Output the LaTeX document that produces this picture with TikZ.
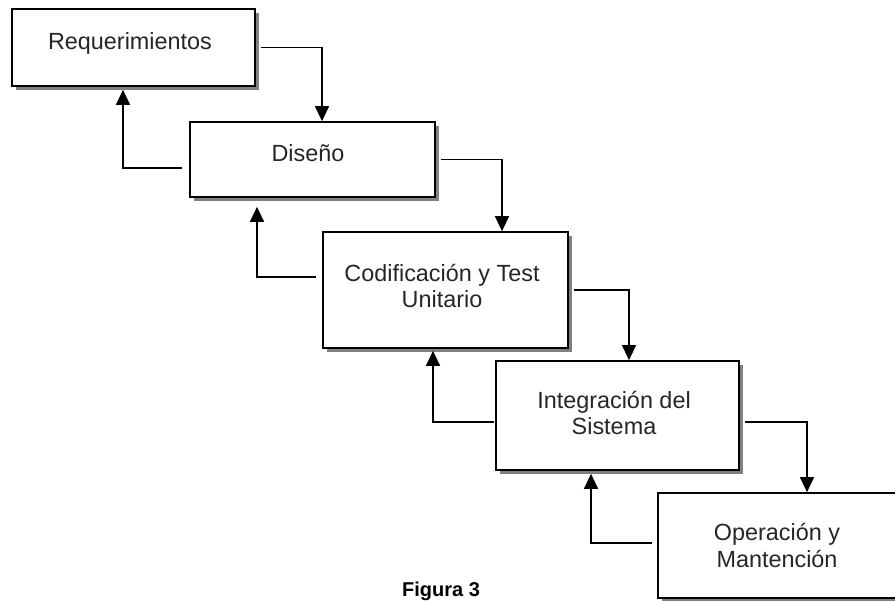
\documentclass[tikz,border=0pt]{standalone}
\usepackage{fontspec}
\setmainfont{Liberation Sans}
\usetikzlibrary{arrows.meta,shadows}

\tikzset{
  stagebox/.style={draw=black, fill=white, line width=1.7pt, inner sep=0pt,
    general shadow={fill=black!50, shadow xshift=4pt, shadow yshift=-4pt}},
  stagetext/.style={font=\fontsize{23.4}{26.5}\selectfont, text=black!85,
    align=center, inner sep=0pt},
  flow/.style={line width=1.3pt, -{Triangle[width=14pt,length=15pt]}},
}

\begin{document}
\begin{tikzpicture}[x=1pt,y=1pt]
  \useasboundingbox (0,0) rectangle (895,601);
  \clip (0,0) rectangle (895,601);

  % stages of the waterfall
  \node[stagebox, minimum width=243pt, minimum height=77pt]  (req) at (133.5,553.5) {};
  \node[stagebox, minimum width=245pt, minimum height=75pt]  (dis) at (312.5,441.5) {};
  \node[stagebox, minimum width=245pt, minimum height=116pt] (cod) at (445.5,311) {};
  \node[stagebox, minimum width=243pt, minimum height=109pt] (int) at (617.5,185.5) {};
  \node[stagebox, minimum width=245pt, minimum height=105pt] (op)  at (780.5,55.5) {};

  % stage labels (base anchor sits on the last line)
  \node[stagetext, anchor=base] (reqt) at (130,551) {Requerimientos};
  \node[stagetext, anchor=base] (dist) at (308,439) {Diseño};
  \node[stagetext, anchor=base] (codt) at (442,293) {Codificación y Test\\Unitario};
  \node[stagetext, anchor=base] (intt) at (614,166) {Integración del\\Sistema};
  \node[stagetext, anchor=base] (opt)  at (777,33.5) {Operación y\\Mantención};

  % forward flow
  \draw[flow] ([xshift=5pt]req.east) -| ([xshift=9.5pt]dis.north);
  \draw[flow] ([xshift=5pt]dis.east) -| ([xshift=56.5pt]cod.north);
  \draw[flow] ([xshift=5pt]cod.east) -| ([xshift=11.5pt]int.north);
  \draw[flow] ([xshift=5pt,yshift=-6.5pt]int.east) -| ([xshift=26.5pt]op.north);

  % feedback flow
  \draw[flow] ([xshift=-7pt,yshift=-8.5pt]dis.west) -| ([xshift=-10.5pt,yshift=-3pt]req.south);
  \draw[flow] ([xshift=-6pt,yshift=13pt]cod.west) -| ([xshift=-55.5pt,yshift=-9pt]dis.south);
  \draw[flow] ([xshift=-1pt,yshift=-6.5pt]int.west) -| ([xshift=-12.5pt,yshift=-2pt]cod.south);
  \draw[flow] ([xshift=-5pt,yshift=2.5pt]op.west) -| ([xshift=-26.5pt,yshift=-3pt]int.south);

  % caption
  \node[font=\bfseries\fontsize{20}{24}\selectfont, anchor=base, inner sep=0pt] (cap) at (441,4) {Figura 3};
\end{tikzpicture}
\end{document}
